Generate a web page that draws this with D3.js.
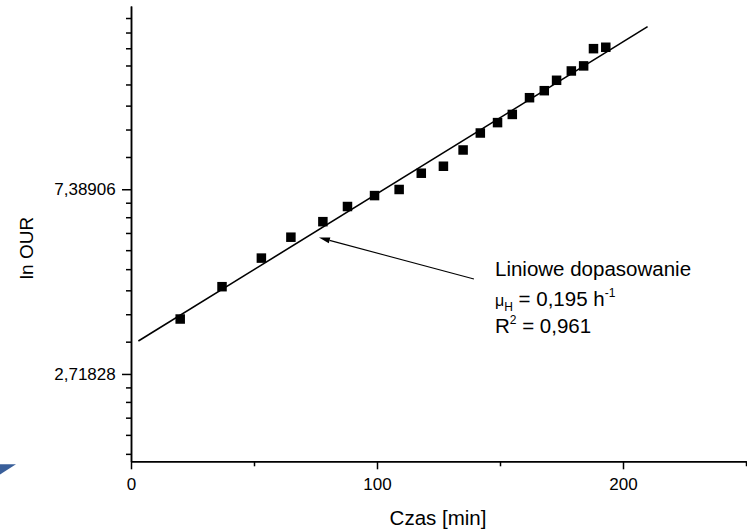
<!DOCTYPE html>
<html>
<head>
<meta charset="utf-8">
<script src="https://cdn.jsdelivr.net/npm/d3@7"></script>
<style>
  body { margin: 0; background: #fff; }
  svg { display: block; font-family: "Liberation Sans", Arial, sans-serif; }
</style>
</head>
<body>
<div id="chart"></div>
<script>
// Data
const czas = [20, 37, 53, 65, 78, 88, 99, 109, 118, 127, 135, 142, 149, 155, 162, 168, 173, 179, 184, 188, 193];
const our = [3.66, 4.36, 5.09, 5.70, 6.20, 6.73, 7.14, 7.38, 8.06, 8.37, 9.14, 10.02, 10.60, 11.08, 12.13, 12.60, 13.33, 14.02, 14.41, 15.82, 15.94];

// fitted line end points
const fitX = [3, 210];
const fitY = [3.25, 17.82];

// axis ticks
const xMajor = [0, 100, 200];
const xMinor = [50, 150, 250];
const yMajor = [Math.E, Math.E * Math.E];
const yMajorLabels = ["2,71828", "7,38906"];

// annotation (arrow tip / tail in data units)
const arrowTip = [76.4, 5.69];
const arrowTail = [139.4, 4.545];

const W = 747;
const H = 531;
const margin = { top: 6, right: 1, bottom: 69.7, left: 131 };

const svg = d3
  .select("#chart")
  .append("svg")
  .attr("width", W)
  .attr("height", H);

const x = d3
  .scaleLinear()
  .domain([0, 250])
  .range([margin.left, W - margin.right]);

const y = d3
  .scaleLog()
  .base(Math.E)
  .domain([1.694, 19.93])
  .range([H - margin.bottom, margin.top]);

// minor ticks on the ln axis: 8 linear steps inside each e-decade
const yMinor = [];
for (let k = 0; k < 3; k++) {
  const lo = Math.exp(k);
  const hi = Math.exp(k + 1);
  for (let i = 1; i < 9; i++) {
    const v = lo + (i * (hi - lo)) / 9;
    if (v >= y.domain()[0] && v <= y.domain()[1]) yMinor.push(v);
  }
}

// blue corner decoration
svg
  .append("path")
  .attr("d", "M0,464.3 L16,464.3 L0,474.5 Z")
  .attr("fill", "#3a5f9a");

// Axes
const xAxisMinor = d3.axisBottom(x).tickValues(xMinor).tickSize(5).tickSizeOuter(0).tickFormat("");
const xAxis = d3.axisBottom(x).tickValues(xMajor).tickSize(8).tickSizeOuter(0).tickPadding(8.4);
const yAxisMinor = d3.axisLeft(y).tickValues(yMinor).tickSize(5).tickSizeOuter(0).tickFormat("");
const yAxis = d3
  .axisLeft(y)
  .tickValues(yMajor)
  .tickSize(9)
  .tickSizeOuter(0)
  .tickPadding(6.3)
  .tickFormat((d, i) => yMajorLabels[i]);

function styleAxis(g) {
  g.selectAll("path, line").attr("stroke", "#000").attr("stroke-width", 1.5);
  g.selectAll("text").attr("fill", "#000").attr("font-size", 17).attr("font-family", "Liberation Sans, Arial, sans-serif");
}

svg.append("g").attr("transform", "translate(0," + y.range()[0] + ")").call(xAxisMinor).call(styleAxis);
svg.append("g").attr("transform", "translate(0," + y.range()[0] + ")").call(xAxis).call(styleAxis);
svg.append("g").attr("transform", "translate(" + margin.left + ",0)").call(yAxisMinor).call(styleAxis);
svg.append("g").attr("transform", "translate(" + margin.left + ",0)").call(yAxis).call(styleAxis);

// Axis titles
svg
  .append("text")
  .attr("x", 438)
  .attr("y", 525)
  .attr("text-anchor", "middle")
  .attr("font-size", 20.5)
  .text("Czas [min]");

svg
  .append("text")
  .attr("transform", "translate(33,248) rotate(-90)")
  .attr("text-anchor", "middle")
  .attr("font-size", 19)
  .text("ln OUR");

// Fit line
svg
  .append("line")
  .attr("x1", x(fitX[0]))
  .attr("y1", y(fitY[0]))
  .attr("x2", x(fitX[1]))
  .attr("y2", y(fitY[1]))
  .attr("stroke", "#000")
  .attr("stroke-width", 1.6);

// Points
const SQ = 9.5;
svg
  .append("g")
  .selectAll("rect")
  .data(czas.map((c, i) => [c, our[i]]))
  .enter()
  .append("rect")
  .attr("x", (d) => x(d[0]) - SQ / 2)
  .attr("y", (d) => y(d[1]) - SQ / 2)
  .attr("width", SQ)
  .attr("height", SQ)
  .attr("fill", "#000");

// Arrow
const tx = x(arrowTip[0]);
const ty = y(arrowTip[1]);
const sx = x(arrowTail[0]);
const sy = y(arrowTail[1]);
const ang = Math.atan2(ty - sy, tx - sx);
const headLen = 11;
const headW = 3;
const bx = tx - headLen * Math.cos(ang);
const by = ty - headLen * Math.sin(ang);

svg
  .append("line")
  .attr("x1", sx)
  .attr("y1", sy)
  .attr("x2", bx)
  .attr("y2", by)
  .attr("stroke", "#000")
  .attr("stroke-width", 1.1);

svg
  .append("path")
  .attr(
    "d",
    "M" + tx + "," + ty +
      " L" + (bx + headW * Math.sin(ang)) + "," + (by - headW * Math.cos(ang)) +
      " L" + (bx - headW * Math.sin(ang)) + "," + (by + headW * Math.cos(ang)) + " Z"
  )
  .attr("fill", "#000");

// Annotation text
const ann = svg.append("g").attr("font-size", 20.5).attr("fill", "#000");

ann.append("text").attr("x", 495).attr("y", 276).text("Liniowe dopasowanie");

const mu = ann.append("text").attr("x", 495).attr("y", 306);
mu.append("tspan").attr("font-size", 16).text("μ");
mu.append("tspan").attr("font-size", 12).attr("dy", 5).text("H");
mu.append("tspan").attr("dy", -5).text(" = 0,195 h");
mu.append("tspan").attr("font-size", 12).attr("dy", -9).text("-1");

const r2 = ann.append("text").attr("x", 495).attr("y", 333);
r2.append("tspan").text("R");
r2.append("tspan").attr("font-size", 12).attr("dy", -9).text("2");
r2.append("tspan").attr("dy", 9).text(" = 0,961");
</script>
</body>
</html>
